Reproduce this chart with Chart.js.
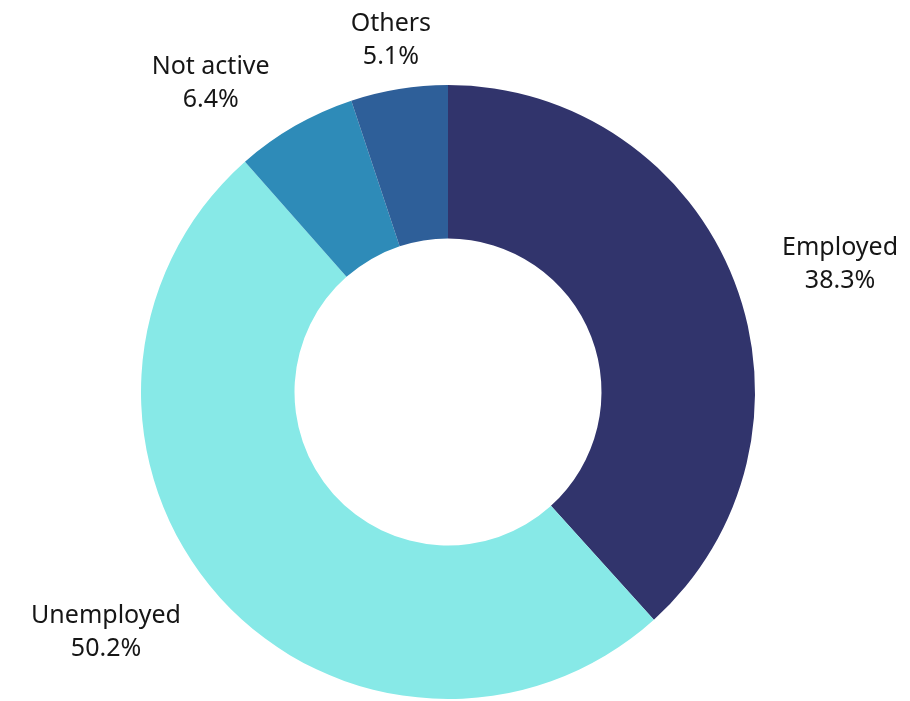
<!DOCTYPE html>
<html lang="en">
<head>
  <meta charset="UTF-8">
  <title>Employment status</title>
  <script src="https://cdn.jsdelivr.net/npm/chart.js"></script>
  <style>
    html, body { margin: 0; padding: 0; background: #fff; }
    #wrap { width: 910px; height: 701px; }
  </style>
</head>
<body>
  <div id="wrap"><canvas id="donut"></canvas></div>
  <script>
    const labels = ['Employed', 'Unemployed', 'Not active', 'Others'];
    const shares = [38.3, 50.2, 6.4, 5.1];
    const colors = ['#31346c', '#87e9e7', '#2e8bb8', '#2e5f99'];

    const FONT = '25px "Noto Sans", "Open Sans", sans-serif';

    // labels sit outside the ring, block aligned away from the centre
    const outsideLabels = {
      id: 'outsideLabels',
      afterDatasetsDraw(chart) {
        const ctx = chart.ctx;
        const meta = chart.getDatasetMeta(0);
        ctx.save();
        ctx.font = FONT;
        ctx.fillStyle = '#161616';
        ctx.textBaseline = 'middle';
        ctx.textAlign = 'center';
        meta.data.forEach((arc, i) => {
          const p = arc.getProps(['x', 'y', 'startAngle', 'endAngle', 'outerRadius'], true);
          const mid = (p.startAngle + p.endAngle) / 2;
          const r = p.outerRadius + 51;
          const ax = p.x + Math.cos(mid) * r;
          const ay = p.y + Math.sin(mid) * r + 1.5;
          const lines = [labels[i], shares[i].toFixed(1) + '%'];
          const w = Math.max(...lines.map(t => ctx.measureText(t).width));
          let cx = ax;
          const c = Math.cos(mid);
          if (c > 0.3) cx = ax + w / 2;
          else if (c < -0.3) cx = ax - w / 2;
          const lh = 33;
          lines.forEach((t, k) => {
            ctx.fillText(t, cx, ay + (k - 0.5) * lh);
          });
        });
        ctx.restore();
      }
    };

    new Chart(document.getElementById('donut'), {
      type: 'doughnut',
      data: {
        labels,
        datasets: [{ data: shares, backgroundColor: colors, borderWidth: 0 }]
      },
      options: {
        responsive: true,
        maintainAspectRatio: false,
        animation: false,
        cutout: '50%',
        layout: { padding: { top: 85, bottom: 2, left: 0, right: 14 } },
        plugins: { legend: { display: false }, tooltip: { enabled: false } }
      },
      plugins: [outsideLabels]
    });
  </script>
</body>
</html>
